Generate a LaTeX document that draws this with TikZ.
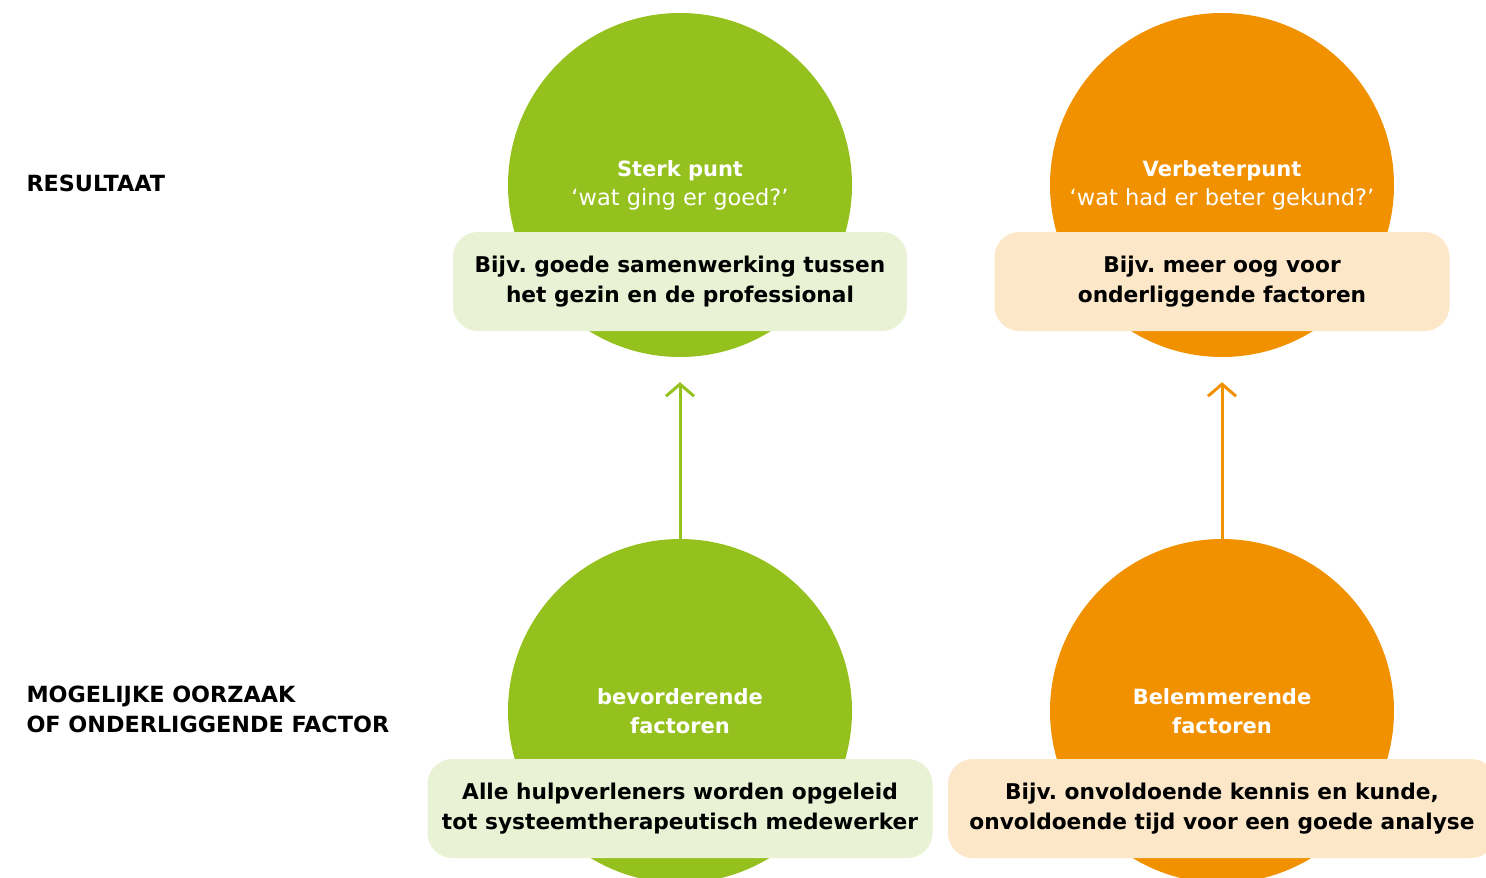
\documentclass[tikz,border=0pt]{standalone}
\usepackage{fontspec}
\setmainfont{DejaVu Sans}
\usetikzlibrary{arrows.meta}
\frenchspacing
\def\circsize{344pt}
\definecolor{lime}{RGB}{149,193,31}
\definecolor{limelight}{RGB}{233,242,213}
\definecolor{amber}{RGB}{241,145,0}
\definecolor{amberlight}{RGB}{252,231,201}
\begin{document}
\begin{tikzpicture}[x=1pt,y=-1pt]
      \tikzstyle{blob}=[circle,minimum size=\circsize,inner sep=0pt]
      \tikzstyle{green blob}=[blob, fill=lime]
      \tikzstyle{orange blob}=[blob, fill=amber]
      \tikzstyle{blobtext}=[text=white,align=center,font=\fontsize{21}{29}\selectfont\bfseries]
      \tikzstyle{card}=[rounded corners=25pt,minimum height=99pt,align=center,font=\fontsize{21.7}{30}\selectfont\bfseries]
      \tikzstyle{green card}=[card, fill=limelight]
      \tikzstyle{orange card}=[card, fill=amberlight]
      \tikzstyle{rowlabel}=[anchor=west,align=left,font=\fontsize{22.3}{30}\selectfont\bfseries]
      \tikzstyle{link}=[line width=3pt,shorten >=25pt,-{Straight Barb[length=12pt,width=28pt,line width=3pt]}]

      \useasboundingbox (0,0) rectangle (1486,878);
      \clip (0,0) rectangle (1486,878);

      % Draw the circles
      \node[green blob] (R-1) at (680,185) {};
      \node[orange blob] (R-2) at (1222,185) {};
      \node[green blob] (F-1) at (680,711) {};
      \node[orange blob] (F-2) at (1222,711) {};

      % Texts inside the circles
      \node[blobtext] (RT-1) at (680,185)
          {Sterk punt\\{\mdseries\fontsize{22.5}{29}\selectfont ‘wat ging er goed?’}};
      \node[blobtext] (RT-2) at (1222,185)
          {Verbeterpunt\\{\mdseries\fontsize{22.5}{29}\selectfont ‘wat had er beter gekund?’}};
      \node[blobtext] (FT-1) at (680,711) {bevorderende\\factoren};
      \node[blobtext] (FT-2) at (1222,711) {Belemmerende\\factoren};

      % Example cards
      \node[green card, minimum width=454pt] (RC-1) at (680,281.5)
          {Bijv. goede samenwerking tussen\\het gezin en de professional};
      \node[orange card, minimum width=455pt] (RC-2) at (1222,281.5)
          {Bijv. meer oog voor\\onderliggende factoren};
      \node[green card, minimum width=505pt] (FC-1) at (680,808.5)
          {Alle hulpverleners worden opgeleid\\tot systeemtherapeutisch medewerker};
      \node[orange card, minimum width=548pt] (FC-2) at (1222,808.5)
          {Bijv. onvoldoende kennis en kunde,\\onvoldoende tijd voor een goede analyse};

      % Connect the causes with the results
      \draw[link, draw=lime] (F-1) -- (R-1);
      \draw[link, draw=amber] (F-2) -- (R-2);

      % Annotate the rows
      \node[rowlabel] (L-1) at (23,183) {RESULTAAT};
      \node[rowlabel] (L-2) at (23,709) {MOGELIJKE OORZAAK\\OF ONDERLIGGENDE FACTOR};
\end{tikzpicture}
\end{document}
